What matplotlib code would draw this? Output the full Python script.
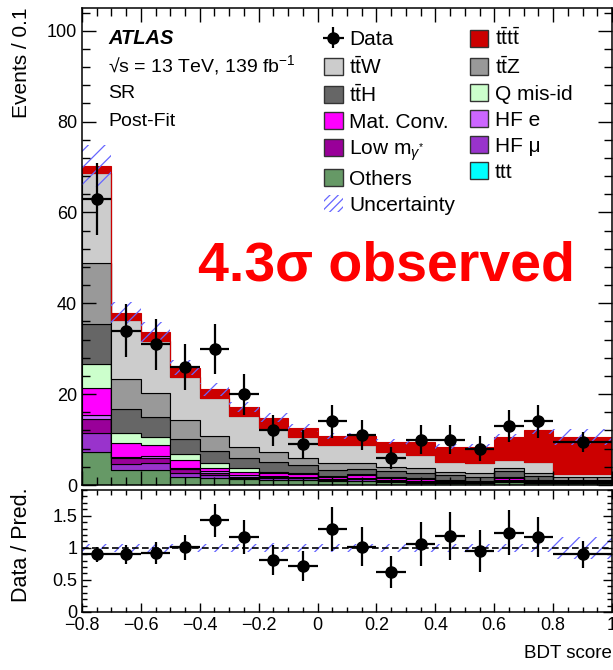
import matplotlib
matplotlib.use("Agg")
import matplotlib.pyplot as plt
import numpy as np
from matplotlib.patches import Patch
from matplotlib.ticker import MultipleLocator, FuncFormatter

plt.rcParams['font.family'] = ['Liberation Sans', 'DejaVu Sans']
plt.rcParams['mathtext.fontset'] = 'custom'
plt.rcParams['mathtext.rm'] = 'Liberation Sans'
plt.rcParams['mathtext.it'] = 'Liberation Sans:italic'
plt.rcParams['mathtext.bf'] = 'Liberation Sans:bold'
plt.rcParams['hatch.linewidth'] = 0.9

bin_edges = [-0.8, -0.7, -0.6, -0.5, -0.4, -0.3, -0.2, -0.1, 0.0, 0.1,
             0.2, 0.3, 0.4, 0.5, 0.6, 0.7, 0.8, 1.0]

# per-process yields (events / 0.1), bottom of stack first
ttt = [0.1, 0.05, 0.05, 0.05, 0.05, 0.05, 0.05, 0.05, 0.05, 0.05, 0.05, 0.05, 0.05, 0.05, 0.1, 0.1, 0.1]
others = [7.2, 3.3, 3.3, 1.8, 1.6, 1.2, 1.1, 1.1, 0.8, 0.8, 0.6, 0.5, 0.4, 0.4, 0.6, 0.4, 0.3]
hf_mu = [4.2, 1.2, 1.4, 0.9, 0.6, 0.4, 0.3, 0.3, 0.2, 0.4, 0.2, 0.2, 0.1, 0.1, 0.2, 0.1, 0.1]
low_m = [3.0, 1.4, 1.2, 0.7, 0.5, 0.2, 0.3, 0.2, 0.2, 0.2, 0.1, 0.1, 0.1, 0.1, 0.1, 0.1, 0.05]
hf_e = [0.9, 0.3, 0.5, 0.4, 0.4, 0.3, 0.2, 0.2, 0.1, 0.1, 0.1, 0.1, 0.1, 0.0, 0.1, 0.0, 0.05]
mat_conv = [6.0, 3.0, 2.4, 1.7, 0.7, 0.8, 0.7, 0.6, 0.4, 0.6, 0.5, 0.3, 0.2, 0.2, 0.5, 0.2, 0.1]
q_misid = [5.3, 2.2, 1.8, 1.3, 0.9, 0.8, 0.3, 0.3, 0.3, 0.2, 0.2, 0.2, 0.1, 0.1, 0.2, 0.1, 0.1]
tth = [8.8, 5.3, 4.4, 3.2, 2.7, 2.2, 2.1, 1.7, 1.3, 1.2, 1.3, 1.2, 1.2, 0.9, 1.3, 0.9, 0.4]
ttz = [13.4, 6.6, 5.3, 4.3, 3.3, 2.5, 2.2, 1.6, 1.5, 1.3, 1.0, 1.1, 0.7, 0.8, 0.7, 0.8, 0.6]
ttw = [19.8, 12.9, 11.4, 9.4, 8.5, 6.8, 5.4, 4.5, 3.9, 3.9, 3.3, 2.9, 2.2, 2.2, 1.7, 2.4, 0.7]
tttt = [1.6, 1.7, 1.9, 2.1, 1.8, 1.9, 2.2, 2.0, 2.1, 2.1, 2.2, 2.8, 3.3, 3.6, 5.0, 6.9, 8.1]

# total post-fit uncertainty
bkg_unc = [4.6, 2.4, 2.2, 1.7, 1.4, 1.1, 1.0, 0.8, 0.7, 0.7, 0.6, 0.6, 0.55, 0.55, 0.7, 0.8, 1.8]

data = [63, 34, 31, 26, 30, 20, 12, 9, 14, 11, 6, 10, 10, 8, 13, 14, 9.5]
data_err = [7.9, 5.8, 5.6, 5.1, 5.5, 4.5, 3.5, 3.0, 3.7, 3.3, 2.4, 3.2, 3.2, 2.8, 3.6, 3.7, 2.2]

stack = [
    (ttt, '#00ffff', 'ttt'),
    (others, '#669966', 'Others'),
    (hf_mu, '#9933cc', 'HF \u03bc'),
    (low_m, '#990099', r'Low m$_{\gamma^{*}}$'),
    (hf_e, '#cc66ff', 'HF e'),
    (mat_conv, '#ff00ff', 'Mat. Conv.'),
    (q_misid, '#ccffcc', 'Q mis-id'),
    (tth, '#666666', r't$\bar{\mathrm{t}}$H'),
    (ttz, '#999999', r't$\bar{\mathrm{t}}$Z'),
    (ttw, '#cccccc', r't$\bar{\mathrm{t}}$W'),
    (tttt, '#cc0000', r't$\bar{\mathrm{t}}$t$\bar{\mathrm{t}}$'),
]
unc_color = '#6666ff'

edges = np.array(bin_edges)
centers = (edges[:-1] + edges[1:]) / 2
half_w = np.diff(edges) / 2

fig = plt.figure(figsize=(6.13, 6.70), dpi=100)
ax = fig.add_axes([82 / 613, 1 - 485 / 670, 530 / 613, 477 / 670])
ax2 = fig.add_axes([82 / 613, 1 - 612 / 670, 530 / 613, 122 / 670])

bottom = np.zeros(len(centers))
handles = {}
for vals, color, label in stack:
    top = bottom + np.array(vals)
    ec = color if label.startswith(r't$\bar{\mathrm{t}}$t') else 'black'
    ax.stairs(top, edges, baseline=bottom, fill=True, facecolor=color,
              edgecolor=ec, linewidth=0.8)
    handles[label] = Patch(facecolor=color, edgecolor='#333333', linewidth=1.0, label=label)
    bottom = top
total = bottom
unc = np.array(bkg_unc)

ax.stairs(total + unc, edges, baseline=total - unc, fill=True, facecolor='none',
          edgecolor=unc_color, hatch='//', linewidth=0)
h_data = ax.errorbar(centers, data, xerr=half_w, yerr=data_err, fmt='o', color='black',
                     ms=8, lw=1.6, capsize=0, label='Data')

# ratio panel
ratio = np.array(data) / total
ratio_err = np.array(data_err) / total
ax2.stairs(1 + unc / total, edges, baseline=1 - unc / total, fill=True, facecolor='none',
           edgecolor=unc_color, hatch='//', linewidth=0)
ax2.axhline(1, color='black', ls='--', lw=1.2, dashes=(4, 2))
ax2.errorbar(centers, ratio, xerr=half_w, yerr=ratio_err, fmt='o', color='black',
             ms=8, lw=1.6, capsize=0)

def fmt(v, pos):
    v = round(v, 6)
    if v == 0:
        return '0'
    return f"{v:g}".replace('-', '\u2212')

for a in (ax, ax2):
    a.set_xlim(-0.8, 1.0)
    a.xaxis.set_major_locator(MultipleLocator(0.2))
    a.xaxis.set_minor_locator(MultipleLocator(0.05))
    a.tick_params(which='both', direction='in', top=True, right=True, labelsize=13, width=1)
    for s in a.spines.values():
        s.set_linewidth(1.1)

ax.set_ylim(0, 105)
ax.yaxis.set_major_locator(MultipleLocator(20))
ax.yaxis.set_minor_locator(MultipleLocator(4))
ax.tick_params(which='major', length=10)
ax.tick_params(which='minor', length=5.5)
ax.tick_params(axis='x', labelbottom=False)
ax.yaxis.set_major_formatter(FuncFormatter(fmt))
ax.set_ylabel('Events / 0.1', loc='top', fontsize=15)
ax.yaxis.set_label_coords(-0.096, 1.0)

ax2.set_ylim(0, 1.9)
ax2.yaxis.set_major_locator(MultipleLocator(0.5))
ax2.yaxis.set_minor_locator(MultipleLocator(0.1))
ax2.tick_params(which='major', length=6.5)
ax2.tick_params(which='minor', length=3.5)
ax2.xaxis.set_major_formatter(FuncFormatter(fmt))
ax2.yaxis.set_major_formatter(FuncFormatter(fmt))
ax2.set_ylabel('Data / Pred.', fontsize=15.5)
ax2.yaxis.set_label_coords(-0.094, 0.55)
ax2.set_xlabel('BDT score', loc='right', fontsize=13.5, labelpad=8)

# labels
ax.text(0.049, 0.937, 'ATLAS', transform=ax.transAxes, fontsize=14.5, fontweight='bold',
        style='italic', va='center')
ax.text(0.049, 0.880, '\u221as = 13 TeV, 139 fb$^{-1}$', transform=ax.transAxes,
        fontsize=14, va='center')
ax.text(0.049, 0.820, 'SR', transform=ax.transAxes, fontsize=14, va='center')
ax.text(0.049, 0.763, 'Post-Fit', transform=ax.transAxes, fontsize=14, va='center')
ax.text(0.574, 0.459, '4.3\u03c3 observed', transform=ax.transAxes, fontsize=40,
        fontweight='bold', color='#ff0000', ha='center', va='center')

unc_handle = Patch(facecolor='none', edgecolor=unc_color, hatch='////', linewidth=0,
                   label='Uncertainty')
order_left = [h_data, handles[r't$\bar{\mathrm{t}}$W'], handles[r't$\bar{\mathrm{t}}$H'],
              handles['Mat. Conv.'], handles[r'Low m$_{\gamma^{*}}$'], handles['Others'],
              unc_handle]
order_right = [handles[r't$\bar{\mathrm{t}}$t$\bar{\mathrm{t}}$'], handles[r't$\bar{\mathrm{t}}$Z'],
               handles['Q mis-id'], handles['HF e'], handles['HF \u03bc'], handles['ttt']]
all_h = order_left + order_right
ax.legend(handles=all_h, labels=[h.get_label() for h in all_h], ncol=2,
          loc='upper left', bbox_to_anchor=(0.4566, 0.959), frameon=False, fontsize=15,
          borderpad=0, handlelength=0.9, handleheight=0.9, handletextpad=0.3,
          labelspacing=0.3, columnspacing=0.7, borderaxespad=0)

fig.savefig('out.png', dpi=100)
